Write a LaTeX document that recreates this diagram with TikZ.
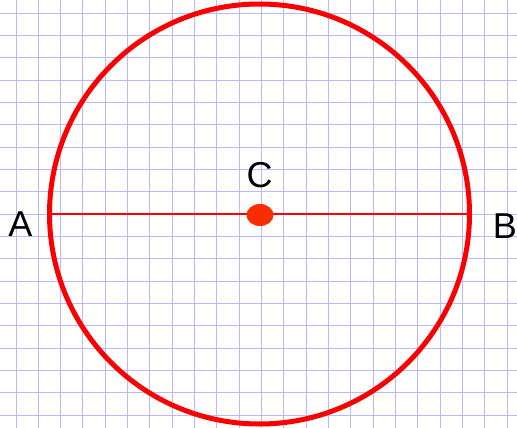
\documentclass[tikz,border=0pt]{standalone}
\usepackage{fontspec}
\setmainfont{Liberation Sans}
\usetikzlibrary{shapes.geometric}
\definecolor{gridc}{RGB}{185,185,255}
\definecolor{dotc}{RGB}{250,45,0}
\definecolor{circc}{RGB}{250,0,0}
\begin{document}
\begin{tikzpicture}[x=1pt,y=-1pt,
  gridline/.style={draw=gridc,line width=1pt},
  lbl/.style={font=\fontsize{36}{36}\selectfont,inner sep=0pt,text=black},
  bigcirc/.style={circle,draw=circc,line width=5pt,minimum size=420pt,inner sep=0pt,outer sep=0pt},
  diam/.style={draw=circc,line width=2pt},
  centerdot/.style={ellipse,fill=dotc,minimum width=27pt,minimum height=22pt,inner sep=0pt}]
\useasboundingbox (0,0) rectangle (517,428);
\fill[white] (0,0) rectangle (517,428);
\foreach \k in {0,...,22} {
  \draw[gridline] ({16+22.33*\k},0) -- ({16+22.33*\k},428);
}
\foreach \k in {0,...,18} {
  \draw[gridline] (0,{13.3+22.33*\k}) -- (517,{13.3+22.33*\k});
}
\node[bigcirc] (circ) at (259.5,214) {};
\draw[diam] (circ.west) -- (circ.east);
\node[centerdot] (dot) at (260,215) {};
\node[lbl] (A) at (20.5,223.7) {A};
\node[lbl] (B) at (505,226) {B};
\node[lbl] (C) at (259.5,175.5) {C};
\end{tikzpicture}
\end{document}
